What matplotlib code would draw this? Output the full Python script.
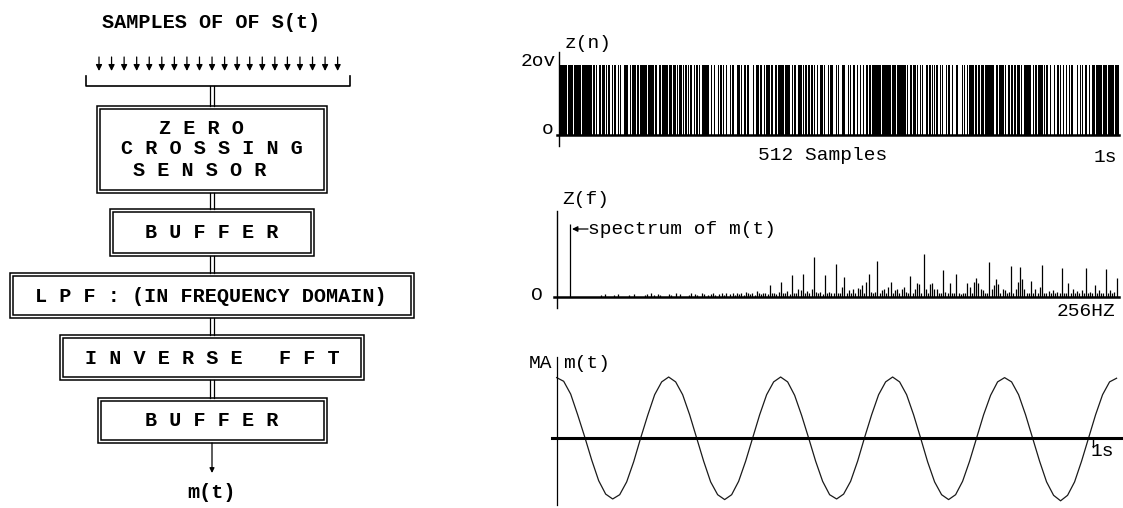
import numpy as np
import matplotlib
matplotlib.use('Agg')
from matplotlib import pyplot as plt
from matplotlib.patches import Rectangle

W, H = 1123, 508

# z(n): 512 zero-crossing samples, hex coded (4 samples per digit)
z_hex_parts = ["FEFBF7FD", "A5D6B29E5", "DBF7EDBF6E", "B5AD69F", "925A4B1A6C4",
               "ED7B6FDE5B", "D6B", "49A2C518A6925B", "FDFEF7F", "A6D29B5",
               "4A2918A5", "EDB7FDBE", "B6DA7E5BD6", "49A52C4A69", "DF7BEF"]
z_high = 20  # volts

# Z(f): 256 bins, height in % of the m(t) line
spec_vals = [
    0, 0, 0, 0, 0, 0, 100, 0, 0, 0, 0, 0, 0, 0, 0, 0,
    0, 0, 0, 0, 3, 0, 4, 0, 0, 0, 3, 0, 4, 0, 0, 0,
    0, 3, 0, 4, 0, 0, 0, 0, 3, 4, 0, 5, 3, 0, 4, 3,
    0, 0, 0, 4, 3, 0, 5, 0, 4, 0, 0, 0, 3, 5, 0, 4,
    3, 0, 5, 4, 0, 3, 4, 5, 3, 0, 4, 6, 3, 5, 0, 4,
    5, 3, 6, 4, 5, 3, 7, 5, 4, 6, 3, 8, 5, 4, 6, 5,
    4, 16, 5, 6, 4, 7, 21, 6, 5, 8, 4, 30, 5, 6, 11, 10,
    32, 6, 8, 5, 11, 55, 7, 5, 7, 4, 30, 5, 7, 6, 5, 45,
    6, 5, 14, 27, 6, 10, 5, 11, 6, 12, 11, 16, 6, 21, 32, 7,
    5, 7, 49, 6, 10, 11, 5, 14, 21, 6, 10, 11, 6, 11, 14, 7,
    6, 29, 5, 11, 19, 18, 6, 59, 11, 6, 18, 19, 11, 11, 6, 5,
    37, 7, 5, 19, 6, 5, 32, 6, 4, 5, 6, 19, 14, 6, 21, 26,
    19, 11, 10, 6, 5, 48, 11, 16, 25, 18, 6, 11, 10, 6, 7, 42,
    6, 11, 21, 41, 25, 11, 6, 5, 22, 6, 11, 5, 14, 44, 6, 5,
    8, 5, 10, 6, 7, 5, 40, 6, 5, 19, 6, 11, 5, 8, 6, 10,
    5, 40, 6, 7, 5, 16, 6, 9, 5, 6, 38, 5, 10, 6, 7, 26,
]

# m(t): recovered message, read every 1/16 period, ends at 1.044 s
m_t_end = 1.044
m_vals = [
    0.99, 0.93, 0.72, 0.38, 0.02, -0.36, -0.70, -0.92, -1.00, -0.93, -0.72, -0.39, 0.00, 0.37, 0.71, 0.92,
    1.00, 0.92, 0.71, 0.38, 0.00, -0.38, -0.72, -0.93, -1.01, -0.93, -0.71, -0.38, 0.00, 0.38, 0.71, 0.92,
    1.00, 0.92, 0.70, 0.37, 0.00, -0.38, -0.71, -0.93, -1.00, -0.92, -0.71, -0.38, 0.01, 0.38, 0.71, 0.92,
    1.00, 0.92, 0.71, 0.38, 0.00, -0.39, -0.72, -0.93, -1.01, -0.93, -0.71, -0.38, 0.00, 0.38, 0.70, 0.92,
    0.99, 0.92, 0.71, 0.38, 0.00, -0.38, -0.72, -0.94, -1.03, -0.94, -0.72, -0.38, 0.00, 0.38, 0.71, 0.92,
    0.98,
]

BOLD = dict(family=['Liberation Mono', 'DejaVu Sans Mono'], weight='bold', fontsize=14.5)
REG = dict(family=['Liberation Mono', 'DejaVu Sans Mono'], fontsize=14)

fig = plt.figure(figsize=(W / 100, H / 100), dpi=100)
bg = fig.add_axes([0, 0, 1, 1])
bg.set_xlim(0, W)
bg.set_ylim(H, 0)
bg.axis('off')


def px_axes(x0, y0, x1, y1):
    a = fig.add_axes([x0 / W, 1 - y1 / H, (x1 - x0) / W, (y1 - y0) / H])
    a.patch.set_alpha(0)
    a.axis('off')
    return a


def dbl_box(x0, y0, x1, y1, gap=3):
    for d in (0, gap):
        bg.add_patch(Rectangle((x0 + d, y0 + d), x1 - x0 - 2 * d, y1 - y0 - 2 * d,
                               fill=False, lw=1.1, ec='black'))


def arrow(x0, y0, x1, y1, size=9):
    bg.annotate('', xy=(x1, y1), xytext=(x0, y0),
                arrowprops=dict(arrowstyle='-|>', lw=0.9, color='black',
                                mutation_scale=size, shrinkA=0, shrinkB=0))


# ---- block diagram ----
bg.text(211, 23, "SAMPLES OF OF S(t)", ha='center', va='center', **BOLD)

for i in range(20):
    x = 99 + i * 12.56
    arrow(x, 57, x, 71)
bg.plot([86, 86, 350, 350], [76, 86, 86, 76], color='black', lw=1.2)

boxes = [(97, 106, 327, 193), (110, 209, 314, 256), (10, 273, 414, 318),
         (60, 335, 364, 380), (98, 398, 327, 443)]
for b in boxes:
    dbl_box(*b)

links = [(86, 106), (193, 209), (256, 273), (318, 335), (380, 398)]
for y0, y1 in links:
    for x in (210.3, 213.7):
        bg.plot([x, x], [y0, y1], color='black', lw=0.9)

labels = [("Z E R O", 201, 128), ("C R O S S I N G", 212, 148), ("S E N S O R", 200, 170),
          ("B U F F E R", 212, 232), ("L P F : (IN FREQUENCY DOMAIN)", 210.5, 297),
          ("I N V E R S E   F F T", 212, 358), ("B U F F E R", 212, 421)]
for s, x, y in labels:
    bg.text(x, y, s, ha='center', va='center', **BOLD)

arrow(212, 443, 212, 473, size=7)
bg.text(212, 492, "m(t)", ha='center', va='center', **BOLD)

# ---- z(n) ----
ax1 = px_axes(553, 50, 1123, 148)
ax1.set_xlim(-5.48, 515.5)
ax1.set_ylim(-3.71, 24.29)
bits = ''.join(bin(int(c, 16))[2:].zfill(4) for c in ''.join(z_hex_parts))
z = np.array([int(b) for b in bits]) * z_high
n = np.arange(len(z))
ax1.bar(n, z, width=1.0, align='edge', color='black', lw=0)
ax1.plot([-1.5, len(z)], [0, 0], color='black', lw=1.8)
ax1.plot([0, 0], [-3.14, 23.7], color='black', lw=1.0)

bg.text(588, 43, "z(n)", ha='center', va='center', **REG)
bg.text(556, 62, "2ov", ha='right', va='center', **REG)
bg.text(548, 130, "o", ha='center', va='center', **REG)
bg.text(823, 155, "512 Samples", ha='center', va='center', **REG)
bg.text(1105, 158, "1s", ha='center', va='center', **REG)

# ---- Z(f) ----
ax2 = px_axes(550, 205, 1123, 312)
ax2.set_xlim(-3.19, 257.9)
ax2.set_ylim(-20.5, 126)
bins = np.arange(len(spec_vals))
ax2.vlines(bins, 0, spec_vals, color='black', lw=0.9)
ax2.plot([-1.5, len(spec_vals)], [0, 0], color='black', lw=1.8)
ax2.plot([0, 0], [-15.1, 117.8], color='black', lw=1.0)

bg.text(586, 199, "Z(f)", ha='center', va='center', **REG)
bg.text(537, 296, "O", ha='center', va='center', **REG)
bg.text(1086, 311, "256HZ", ha='center', va='center', **REG)
arrow(588, 229, 572, 229, size=8)
bg.text(588, 229, "spectrum of m(t)", ha='left', va='center', **REG)

# ---- m(t) ----
ax3 = px_axes(548, 355, 1123, 508)
ax3.set_xlim(-0.0162, 1.056)
ax3.set_ylim(-1.148, 1.361)
t = np.linspace(0, m_t_end, len(m_vals))
ax3.plot(t, m_vals, color='#1a1a1a', lw=0.9)
ax3.plot([-0.009, 1.056], [0, 0], color='black', lw=2.2)
ax3.plot([0, 0], [-1.098, 1.328], color='black', lw=0.9)
ax3.plot([1, 1], [0, -0.15], color='black', lw=1.0)

bg.text(552, 364, "MA", ha='right', va='center', **REG)
bg.text(563, 364, "m(t)", ha='left', va='center', **REG)
bg.text(1102, 452, "1s", ha='center', va='center', **REG)

fig.savefig('out.png', dpi=100, facecolor='white')
